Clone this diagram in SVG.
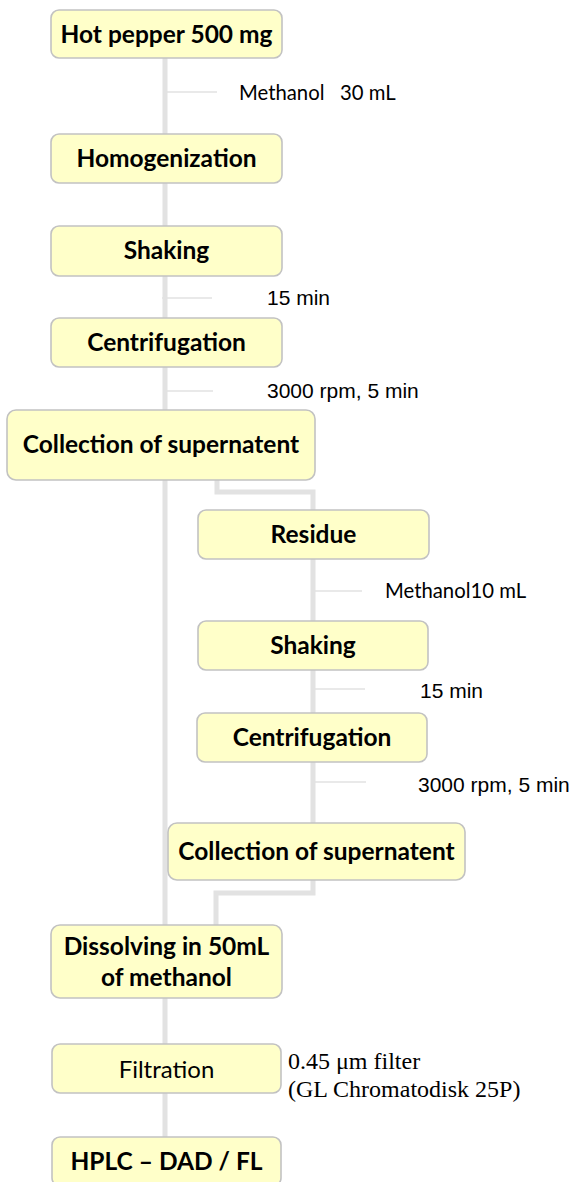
<svg xmlns="http://www.w3.org/2000/svg" width="577" height="1182" viewBox="0 0 577 1182">
<style>
.box{fill:#ffffc9;stroke:#c2c2c2;stroke-width:1.6}
.lbl{font-family:Lato,"Liberation Sans",sans-serif;font-weight:bold;font-size:24.5px;fill:#000;text-anchor:middle}
.lblr{font-family:Lato,"Liberation Sans",sans-serif;font-size:24px;fill:#000;text-anchor:middle}
.main{stroke:#e2e2e2;stroke-width:5;fill:none}
.br{stroke:#e2e2e2;stroke-width:1.6;fill:none}
.cal{font-family:Lato,"Liberation Sans",sans-serif;font-size:20.3px;fill:#000}
.ar{font-family:"Liberation Sans",Arial,sans-serif;font-size:21px;fill:#000}
.tm{font-family:"Liberation Serif","Times New Roman",serif;font-size:24px;fill:#000}
</style>
<rect width="577" height="1182" fill="#fff"/>
<g id="connectors">
<path class="main" d="M165 58 V1140"/>
<path class="main" d="M217 480 V492 H313 V826"/>
<path class="main" d="M313 880 V893 H216 V928"/>
<path class="br" d="M165 92 H217"/>
<path class="br" d="M162 298 H212"/>
<path class="br" d="M165 391 H213"/>
<path class="br" d="M313 591 H362"/>
<path class="br" d="M313 689 H365"/>
<path class="br" d="M313 782 H366"/>
</g>
<g id="n1"><rect class="box" x="51" y="10" width="231" height="48" rx="8"/><text class="lbl" x="166.5" y="42.5">Hot pepper 500 mg</text></g>
<g id="t1"><text class="cal" x="239" y="100" xml:space="preserve">Methanol   30 mL</text></g>
<g id="n2"><rect class="box" x="51" y="134" width="231" height="49" rx="8"/><text class="lbl" x="166.5" y="167">Homogenization</text></g>
<g id="n3"><rect class="box" x="51" y="226" width="231" height="50" rx="8"/><text class="lbl" x="166.5" y="259">Shaking</text></g>
<g id="t2"><text class="ar" x="267" y="305">15 min</text></g>
<g id="n4"><rect class="box" x="51" y="318" width="231" height="49" rx="8"/><text class="lbl" x="166.5" y="351">Centrifugation</text></g>
<g id="t3"><text class="ar" x="267" y="398">3000 rpm, 5 min</text></g>
<g id="n5"><rect class="box" x="7" y="410" width="308" height="70" rx="9"/><text class="lbl" x="161" y="453">Collection of supernatent</text></g>
<g id="n6"><rect class="box" x="198" y="510" width="231" height="49" rx="8"/><text class="lbl" x="313.5" y="543">Residue</text></g>
<g id="t4"><text class="cal" x="385" y="598">Methanol10 mL</text></g>
<g id="n7"><rect class="box" x="198" y="621" width="230" height="49" rx="8"/><text class="lbl" x="313" y="654">Shaking</text></g>
<g id="t5"><text class="ar" x="420" y="698">15 min</text></g>
<g id="n8"><rect class="box" x="197" y="713" width="230" height="49" rx="8"/><text class="lbl" x="312" y="746">Centrifugation</text></g>
<g id="t6"><text class="ar" x="418" y="792">3000 rpm, 5 min</text></g>
<g id="n9"><rect class="box" x="168" y="823" width="297" height="57" rx="9"/><text class="lbl" x="316.5" y="860">Collection of supernatent</text></g>
<g id="n10"><rect class="box" x="51" y="925" width="231" height="73" rx="9"/><text class="lbl" x="166.5" y="955">Dissolving in 50mL</text><text class="lbl" x="166.5" y="986">of methanol</text></g>
<g id="n11"><rect class="box" x="52" y="1044" width="229" height="49" rx="8"/><text class="lblr" x="166.5" y="1078">Filtration</text></g>
<g id="t7"><text class="tm" x="288" y="1069">0.45 μm filter</text><text class="tm" x="288" y="1097">(GL Chromatodisk 25P)</text></g>
<g id="n12"><rect class="box" x="52" y="1137" width="229" height="49" rx="8"/><text class="lbl" x="166.5" y="1170">HPLC – DAD / FL</text></g>
</svg>
